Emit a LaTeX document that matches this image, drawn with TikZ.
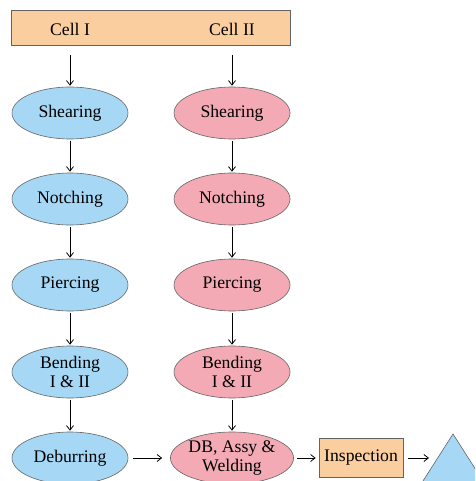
\documentclass[tikz,border=0pt]{standalone}
\usepackage{fontspec}
\setmainfont{Liberation Serif}
\usetikzlibrary{shapes.geometric,arrows.meta}
\definecolor{cellorange}{RGB}{250,206,158}
\definecolor{cellblue}{RGB}{166,216,245}
\definecolor{cellpink}{RGB}{243,170,180}
\definecolor{edgegray}{RGB}{100,100,100}
\tikzset{
  procA/.style={ellipse, draw=edgegray, line width=0.6pt, fill=cellblue,
    minimum width=116pt, minimum height=52pt, inner sep=0pt,
    align=center, font=\fontsize{17.7}{19.5}\selectfont},
  procB/.style={procA, fill=cellpink},
  banner/.style={rectangle, draw=edgegray, line width=0.6pt, fill=cellorange,
    minimum width=279pt, minimum height=35pt, inner sep=0pt},
  boxlabel/.style={font=\fontsize{17.7}{19.5}\selectfont, inner sep=0pt},
  stationbox/.style={rectangle, draw=edgegray, line width=0.6pt, fill=cellorange,
    minimum width=84pt, minimum height=39pt, inner sep=0pt,
    font=\fontsize{17.7}{19.5}\selectfont},
  flow/.style={-{Straight Barb[length=4.5pt,width=7pt]}, line width=0.8pt, black},
}
\begin{document}
\begin{tikzpicture}[x=1pt,y=-1pt]
\useasboundingbox (0,0) rectangle (475,481);
\clip (0,0) rectangle (475,481);

% cell header
\node[banner] (head) at (150.5,27.5) {};
\node[boxlabel] (c1) at (70,29) {Cell I};
\node[boxlabel] (c2) at (232,29) {Cell II};

% cell I operations
\node[procA] (a1) at (70,113) {Shearing};
\node[procA] (a2) at (70,199) {Notching};
\node[procA] (a3) at (70,285) {Piercing};
\node[procA] (a4) at (70,372) {Bending\\I \& II};
\node[procA] (a5) at (70,458) {Deburring};

% cell II operations
\node[procB] (b1) at (232,113) {Shearing};
\node[procB] (b2) at (232,199) {Notching};
\node[procB] (b3) at (232,285) {Piercing};
\node[procB] (b4) at (232,372) {Bending\\I \& II};
\node[procB] (b5) at (232,458) {DB, Assy \&\\Welding};

% final stations
\node[stationbox] (insp) at (361,458) {Inspection};
\coordinate (tA) at (453,434);
\coordinate (tB) at (414,495);
\coordinate (tC) at (492,495);
\fill[cellblue] (tA) -- (tB) -- (tC) -- cycle;
\draw[edgegray, line width=0.6pt] (tB) -- (tA) -- (tC);
\coordinate (tin) at (429,458);

% flow connectors
\draw[flow, shorten <=10pt, shorten >=1pt] (c1 |- head.south) -- (a1);
\draw[flow, shorten <=10pt, shorten >=1pt] (c2 |- head.south) -- (b1);
\foreach \u/\v in {a1/a2,a2/a3,a3/a4,a4/a5,b1/b2,b2/b3,b3/b4,b4/b5}
  \draw[flow, shorten <=2pt, shorten >=1pt] (\u) -- (\v);
\draw[flow, shorten <=5pt, shorten >=8pt] (a5) -- (b5);
\draw[flow, shorten <=3pt, shorten >=3pt] (b5) -- (insp);
\draw[flow, shorten <=5pt] (insp) -- (tin);
\end{tikzpicture}
\end{document}
